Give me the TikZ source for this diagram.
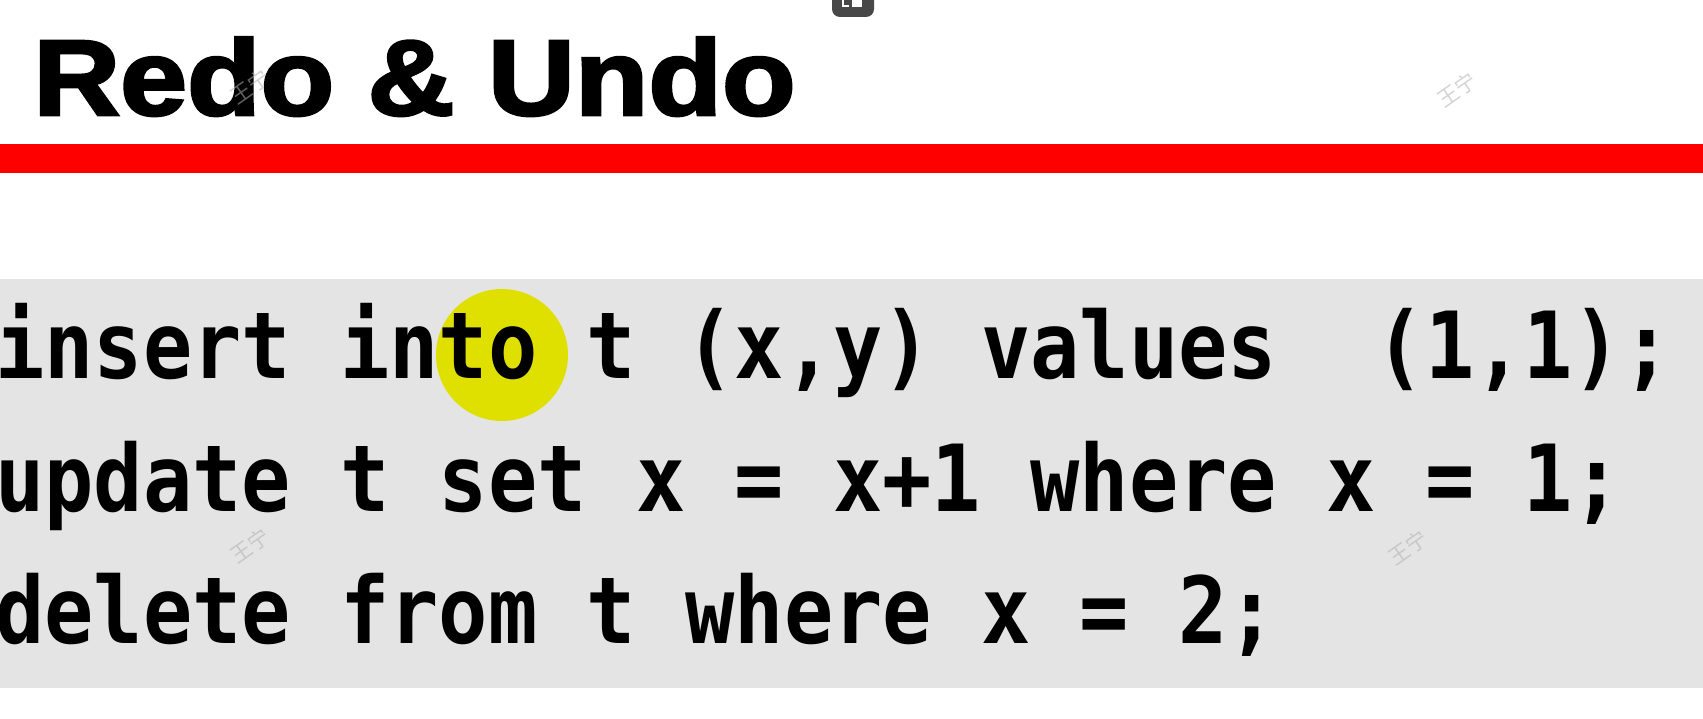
\documentclass[tikz,border=0pt]{standalone}
\usepackage{fontspec}
\newfontfamily\titlefont[FakeBold=2.5]{Liberation Sans Bold}
\newfontfamily\codefont{DejaVu Sans Mono}
\newfontfamily\cjk{Noto Sans CJK SC}
\definecolor{redbar}{RGB}{255,0,0}
\definecolor{codebg}{RGB}{228,228,228}
\definecolor{hlyellow}{RGB}{224,224,0}
\definecolor{icongray}{RGB}{72,72,72}
\definecolor{wmgray}{RGB}{176,176,176}
\tikzset{
  titletext/.style={anchor=base west, inner sep=0pt, xscale=1.12,
    font=\titlefont\fontsize{107.5}{110}\selectfont},
  codeline/.style={anchor=base west, inner sep=0pt, yscale=1.13,
    font=\codefont\bfseries\fontsize{81.9}{90}\selectfont\frenchspacing},
  wm/.style={inner sep=0pt, rotate=35, text=wmgray, text opacity=0.55,
    font=\cjk\fontsize{21}{21}\selectfont}
}
\begin{document}
\begin{tikzpicture}[x=1pt,y=-1pt]
\useasboundingbox (0,0) rectangle (1703,719);
\fill[white] (0,0) rectangle (1703,719);
% title
\node[titletext] (title) at (33,115) {Redo \& Undo};
% red bar
\fill[redbar] (0,144) rectangle (1703,173);
% code background
\fill[codebg] (0,279) rectangle (1703,688);
% highlight
\fill[hlyellow] (502,355) circle (66pt);
\fill[red] (501,357) circle (2.5pt);
% code lines
\node[codeline] (l1) at (-5,378) {insert into t (x,y) values~~(1,1);};
\node[codeline] (l2) at (-5,511) {update t set x = x+1 where x = 1;};
\node[codeline] (l3) at (-5,643) {delete from t where x = 2;};
% watermarks
\node[wm] (w1) at (250,87) {王宁};
\node[wm] (w2) at (1457,90) {王宁};
\node[wm] (w3) at (250,546) {王宁};
\node[wm] (w4) at (1408,548) {王宁};
% top icon
\fill[icongray, rounded corners=8pt] (832,-14) rectangle (874,17);
\fill[white] (852,0) rectangle (862,7);
\draw[white, line width=2pt] (843,-1) -- (843,6) -- (849,6);
\end{tikzpicture}
\end{document}
